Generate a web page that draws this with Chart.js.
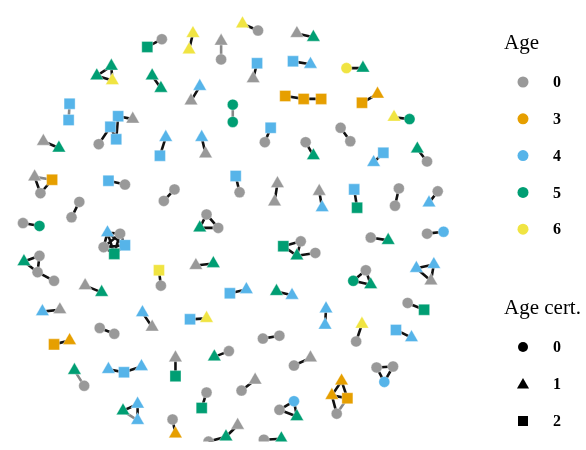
<!DOCTYPE html>
<html>
<head>
<meta charset="utf-8">
<script src="https://cdn.jsdelivr.net/npm/chart.js@4"></script>
<style>
  html, body { margin: 0; padding: 0; background: #fff; }
  #wrap { width: 586px; height: 450px; position: relative; }
</style>
</head>
<body>
<div id="wrap"><canvas id="net" width="586" height="450"></canvas></div>
<script>
// node layout (x, y in layout units), age and age certainty per node
const nodeX = [143,158,106,91,107,148,157,63,62,113,128,105,111,93,36,52,
  190,186,241,257,219,219,297,314,256,252,293,311,197,188,231,231,285,304,322,270,264,306,314,162,156,199,203,
  348,365,380,364,397,413,342,352,386,376,421,431,
  27,45,33,103,120,73,65,15,32,102,115,98,120,109,16,32,30,47,79,96,155,157,
  171,160,234,238,277,274,204,197,216,283,301,297,316,193,211,228,245,276,292,
  320,323,356,359,402,398,442,433,373,391,431,448,368,355,373,420,438,435,
  35,53,138,148,94,109,47,63,68,78,103,119,137,118,133,133,
  187,204,262,279,212,227,172,172,294,311,240,254,204,199,294,279,297,169,172,236,224,206,263,281,
  327,326,411,428,364,358,399,415,379,396,387,343,333,349,338];
const nodeY = [40,32,60,70,75,70,83,99,116,112,115,123,136,141,138,145,
  26,43,16,23,34,53,26,30,57,73,55,58,81,96,100,118,91,94,94,124,139,139,153,134,153,134,151,
  62,62,89,98,113,115,124,138,150,160,146,159,
  175,178,192,179,183,201,217,223,226,233,234,248,246,255,263,257,274,283,288,295,272,288,
  188,200,174,191,182,201,214,228,228,247,242,257,254,267,265,296,292,294,298,
  190,207,188,207,187,205,190,202,238,241,234,232,272,283,287,270,266,283,
  315,313,316,331,332,338,349,345,376,392,375,378,372,418,411,428,
  323,322,343,340,362,356,363,382,371,363,397,386,399,415,408,417,424,427,442,433,445,450,448,447,
  312,329,306,313,328,346,334,342,373,372,388,387,402,405,421];
const nodeAge = [5,0,5,5,6,5,5,4,4,4,0,4,4,0,0,5,
  6,6,6,0,0,0,0,5,4,0,4,4,4,0,5,5,3,3,3,4,0,0,5,4,4,4,0,
  6,5,3,3,6,5,0,0,4,4,5,0,
  0,3,0,4,0,0,0,0,5,4,0,0,4,5,5,0,0,0,0,5,6,0,
  0,0,4,0,0,0,0,5,0,5,0,5,0,0,5,4,4,5,4,
  0,4,4,5,0,0,0,4,0,5,0,4,0,5,5,4,4,0,
  4,0,4,0,0,0,3,3,5,0,4,4,4,5,4,4,
  4,6,0,0,5,0,0,5,0,0,0,0,0,5,4,0,5,0,3,0,5,0,0,5,
  4,4,0,5,6,0,4,4,0,0,4,3,3,3,0];
const nodeCert = [2,0,1,1,1,1,1,2,2,2,1,2,2,0,1,1,
  1,1,1,0,1,0,1,1,2,1,2,1,1,1,0,0,2,2,2,2,0,0,1,1,2,1,1,
  0,1,1,2,1,0,0,0,2,1,1,0,
  1,2,0,2,0,0,0,0,0,1,0,0,2,2,1,0,0,0,1,1,2,0,
  0,0,2,0,1,1,0,1,0,2,0,1,0,1,1,2,1,1,1,
  1,1,2,2,0,0,0,1,0,1,0,0,0,0,1,1,1,1,
  1,1,1,1,0,0,2,1,1,0,1,2,1,1,1,1,
  2,1,0,0,1,0,1,2,0,1,0,1,0,2,0,0,1,0,1,1,1,0,0,1,
  1,1,0,2,1,0,2,1,0,0,0,1,1,2,0];

// edges: endpoints and shade (1 = dark, 0 = grey)
const edgeFrom = [0,2,2,3,5,7,9,9,11,11,14,
  16,18,20,22,24,26,28,30,32,33,35,37,39,41,
  43,45,47,49,51,53,
  55,56,55,58,60,62,64,64,64,64,65,65,65,66,66,67,
  69,69,70,71,73,75,77,79,81,83,83,84,86,86,87,88,90,92,94,96,98,100,102,104,106,108,108,109,111,111,112,
  114,116,118,120,122,124,125,127,128,127,
  130,132,134,136,138,140,142,144,144,145,147,150,149,152,154,156,158,160,162,162,163,165,165,166,166,167];
const edgeTo = [1,3,4,4,6,8,10,12,13,12,15,
  17,19,21,23,25,27,29,31,33,34,36,38,40,42,
  44,46,48,50,52,54,
  57,57,56,59,61,63,65,66,67,68,66,67,68,67,68,68,
  70,71,71,72,74,76,78,80,82,84,85,85,87,88,88,89,91,93,95,97,99,101,103,105,107,109,110,110,112,113,113,
  115,117,119,121,123,125,126,128,129,129,
  131,133,135,137,139,141,143,145,146,146,148,151,150,153,155,157,159,161,163,164,164,166,167,167,168,168];
const edgeShade = [1,1,1,1,1,0,1,1,1,1,1,
  1,1,0,1,1,1,1,0,1,1,1,1,1,1,
  1,1,1,1,1,1,
  1,1,0,1,1,1,1,1,1,1,1,1,1,1,1,1,
  1,1,1,1,1,1,1,1,1,1,1,1,1,1,1,1,1,1,1,1,1,1,1,1,1,1,1,1,1,1,1,
  1,1,1,1,0,1,1,1,1,0,
  1,1,1,1,1,1,1,1,1,1,1,1,1,1,1,1,1,1,1,1,1,1,1,1,1,0];

const ageLevels = [0, 3, 4, 5, 6];
const ageColors = ["#999999", "#E69F00", "#56B4E9", "#009E73", "#F0E442"];
const certLevels = [0, 1, 2];
const certStyles = ["circle", "triangle", "rect"];
const certRadius = [5.5, 7.8, 7.8];

const colorOf = (a) => ageColors[ageLevels.indexOf(a)];

const nodePoints = nodeX.map((x, i) => ({ x, y: nodeY[i] }));

// segments separated by empty points so the line breaks between edges
const edgeData = (shade) => {
  const out = [];
  edgeFrom.forEach((a, i) => {
    if (edgeShade[i] !== shade) return;
    out.push(nodePoints[a], nodePoints[edgeTo[i]], { x: null, y: null });
  });
  return out;
};

const FONT = "'Liberation Serif', 'Times New Roman', serif";

function marker(ctx, style, x, y, r) {
  ctx.beginPath();
  if (style === "circle") {
    ctx.arc(x, y, r, 0, Math.PI * 2);
  } else if (style === "triangle") {
    ctx.moveTo(x, y - r);
    ctx.lineTo(x + r * Math.sqrt(3) / 2, y + r / 2);
    ctx.lineTo(x - r * Math.sqrt(3) / 2, y + r / 2);
    ctx.closePath();
  } else {
    ctx.rect(x - r, y - r, 2 * r, 2 * r);
  }
  ctx.fill();
}

const legendPlugin = {
  id: "sideLegend",
  afterDraw(chart) {
    const ctx = chart.ctx;
    ctx.save();
    ctx.fillStyle = "#000";
    ctx.textBaseline = "alphabetic";
    ctx.font = "21px " + FONT;
    ctx.fillText("Age", 504, 49);
    ctx.fillText("Age cert.", 504, 314);

    ctx.font = "bold 16px " + FONT;
    ctx.textBaseline = "middle";
    ageLevels.forEach((a, i) => {
      const y = 82 + i * 36.8;
      ctx.fillStyle = ageColors[i];
      marker(ctx, "circle", 523, y, 5.5);
      ctx.fillStyle = "#000";
      ctx.fillText(String(a), 553, y + 1);
    });
    certLevels.forEach((c, i) => {
      const y = 347 + i * 37;
      ctx.fillStyle = "#000";
      if (c === 0) marker(ctx, "circle", 523, y, 5);
      else if (c === 1) marker(ctx, "triangle", 523, y + 1, 7);
      else marker(ctx, "rect", 523, y, 5);
      ctx.fillText(String(c), 553, y + 1);
    });
    ctx.restore();
  }
};

new Chart(document.getElementById("net"), {
  type: "scatter",
  data: {
    datasets: [
      {
        label: "nodes",
        data: nodePoints,
        order: 0,
        pointStyle: nodeCert.map((c) => certStyles[c]),
        pointRadius: nodeCert.map((c) => certRadius[c]),
        pointBackgroundColor: nodeAge.map(colorOf),
        pointBorderColor: "rgba(255,255,255,0.6)",
        pointBorderWidth: 0.6,
        showLine: false
      },
      {
        label: "edges",
        type: "line",
        data: edgeData(1),
        order: 2,
        borderColor: "#111111",
        borderWidth: 2.6,
        pointRadius: 0,
        spanGaps: false,
        fill: false
      },
      {
        label: "edges-light",
        type: "line",
        data: edgeData(0),
        order: 3,
        borderColor: "#888888",
        borderWidth: 2.6,
        pointRadius: 0,
        spanGaps: false,
        fill: false
      }
    ]
  },
  options: {
    responsive: false,
    animation: false,
    devicePixelRatio: 1,
    layout: { padding: 0 },
    scales: {
      x: { type: "linear", display: false, min: 0, max: 586 },
      y: { type: "linear", display: false, min: 0, max: 450, reverse: true }
    },
    plugins: {
      legend: { display: false },
      tooltip: { enabled: false }
    }
  },
  plugins: [legendPlugin]
});
</script>
</body>
</html>
